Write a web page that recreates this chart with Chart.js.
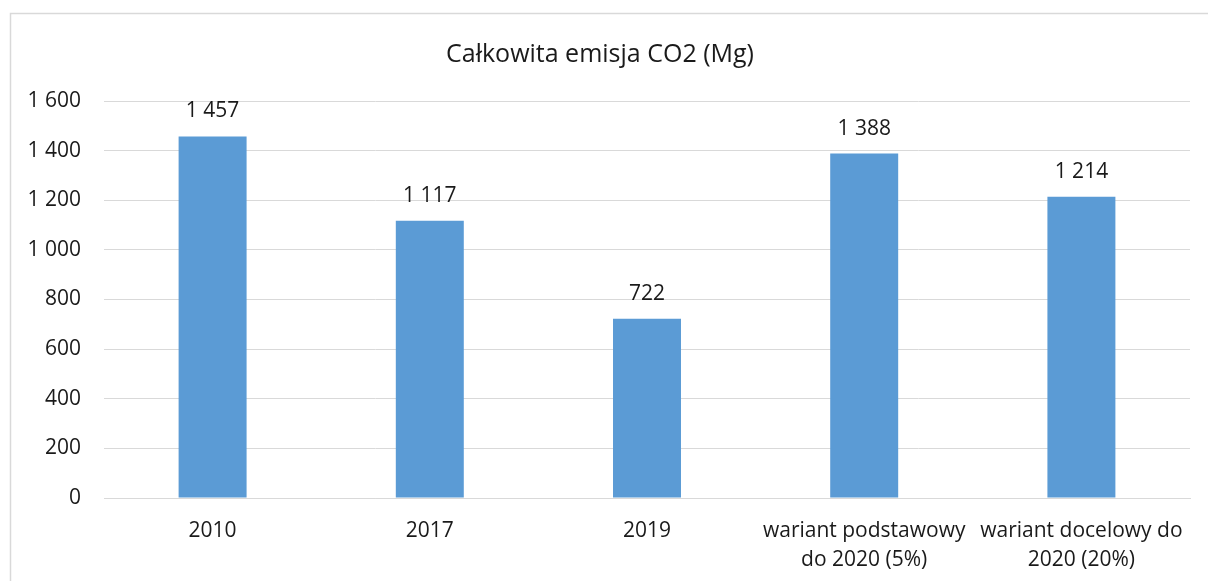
<!DOCTYPE html>
<html>
<head>
<meta charset="utf-8">
<script src="https://cdn.jsdelivr.net/npm/chart.js@4/dist/chart.umd.min.js"></script>
<style>
  html, body { margin: 0; padding: 0; background: #ffffff; }
  #wrap { position: relative; width: 1208px; height: 581px; }
</style>
</head>
<body>
<div id="wrap"><canvas id="c" width="1208" height="581"></canvas></div>
<script>
const categories = [
  "2010",
  "2017",
  "2019",
  ["wariant podstawowy", "do 2020 (5%)"],
  ["wariant docelowy do", "2020 (20%)"]
];
const emissions = [1457, 1117, 722, 1388, 1214];
const yTicks = [0, 200, 400, 600, 800, 1000, 1200, 1400, 1600];
const titleText = "Całkowita emisja CO2 (Mg)";

const FONT = "'Open Sans', sans-serif";

function fmt(v) {
  return String(v).replace(/\B(?=(\d{3})+(?!\d))/g, " ");
}

const frame = {
  id: "frame",
  beforeDraw(chart) {
    const ctx = chart.ctx;
    ctx.save();
    ctx.fillStyle = "#ffffff";
    ctx.fillRect(0, 0, chart.width, chart.height);
    ctx.strokeStyle = "#d9d9d9";
    ctx.lineWidth = 1.5;
    ctx.beginPath();
    ctx.moveTo(10.5, chart.height + 5);
    ctx.lineTo(10.5, 13.5);
    ctx.lineTo(chart.width + 5, 13.5);
    ctx.stroke();
    ctx.restore();
  }
};

const valueLabels = {
  id: "valueLabels",
  afterDatasetsDraw(chart) {
    const ctx = chart.ctx;
    const meta = chart.getDatasetMeta(0);
    ctx.save();
    ctx.font = "21px " + FONT;
    ctx.fillStyle = "#1a1a1a";
    ctx.textAlign = "center";
    ctx.textBaseline = "middle";
    meta.data.forEach((bar, i) => {
      ctx.fillText(fmt(chart.data.datasets[0].data[i]), bar.x, bar.y - 25);
    });
    ctx.restore();
  }
};

new Chart(document.getElementById("c"), {
  type: "bar",
  data: {
    labels: categories,
    datasets: [{
      data: emissions,
      backgroundColor: "#5b9bd5",
      borderWidth: 0,
      barPercentage: 0.313,
      categoryPercentage: 1
    }]
  },
  options: {
    responsive: false,
    animation: false,
    layout: { padding: { left: 10, right: 18, top: 0, bottom: 0 } },
    plugins: {
      legend: { display: false },
      tooltip: { enabled: false },
      title: {
        display: true,
        text: titleText,
        color: "#1a1a1a",
        font: { family: FONT, size: 25, weight: "normal", lineHeight: 1.2 },
        padding: { top: 40, bottom: 31 }
      }
    },
    scales: {
      x: {
        grid: { display: false },
        border: { color: "#d9d9d9", width: 1 },
        ticks: {
          color: "#1a1a1a",
          font: { family: FONT, size: 21, lineHeight: 1.35 },
          padding: 11,
          maxRotation: 0,
          autoSkip: false
        },
        afterFit(scale) { scale.height = 83; }
      },
      y: {
        min: 0,
        max: 1600,
        afterBuildTicks(scale) { scale.ticks = yTicks.map(v => ({ value: v })); },
        grid: { color: "#d9d9d9", lineWidth: 1, drawTicks: false },
        border: { display: false },
        ticks: {
          color: "#1a1a1a",
          font: { family: FONT, size: 21 },
          padding: 23,
          callback: (v) => fmt(v)
        },
        afterFit(scale) { scale.width = 94; }
      }
    }
  },
  plugins: [frame, valueLabels]
});
</script>
</body>
</html>
